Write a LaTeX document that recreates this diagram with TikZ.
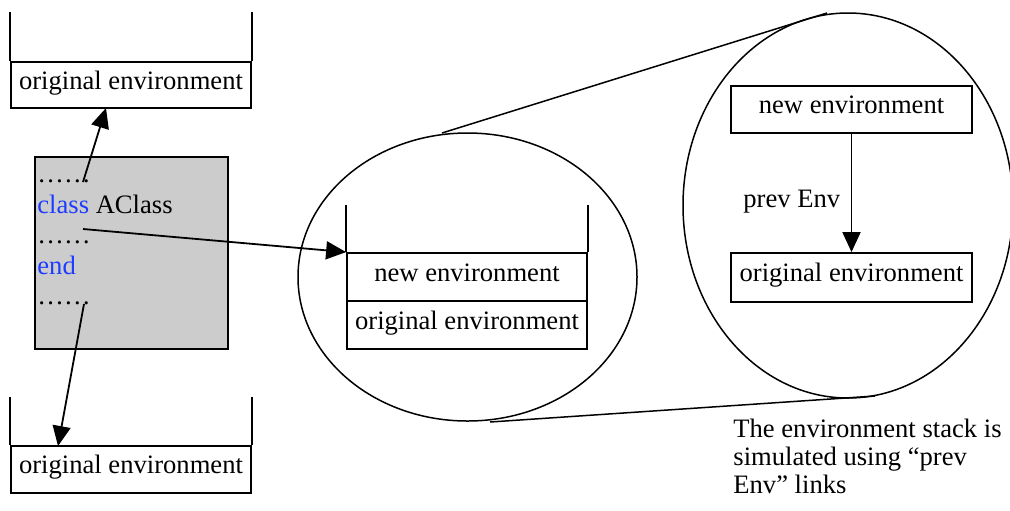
\documentclass[tikz,border=0pt]{standalone}
\usepackage{fontspec}
\setmainfont{Liberation Serif}
\usetikzlibrary{arrows.meta}
\definecolor{kwblue}{RGB}{30,60,255}
\definecolor{codegray}{RGB}{204,204,204}
\begin{document}
\begin{tikzpicture}[x=0.5pt,y=-0.5pt,
  font=\fontsize{13.3}{14}\selectfont,
  envbox/.style={draw, line width=0.9pt, fill=white, minimum width=120pt,
    inner sep=0pt, text height=7.5pt, text depth=3.5pt},
  wall/.style={line width=0.9pt},
  arr/.style={line width=0.9pt, -{Triangle[length=10pt,width=9pt]}},
  ring/.style={line width=0.75pt},
  codeline/.style={anchor=base west, inner sep=0pt}]
\useasboundingbox (0,0) rectangle (1010,510);

% --- zoom outline: two lens-like ellipses joined by tangent lines
\draw[ring] (467.5,277) ellipse [x radius=84.75pt, y radius=72pt];
\draw[ring] (848,205.5) ellipse [x radius=82.5pt, y radius=96.25pt];
\coordinate (lt1) at (442,133);
\coordinate (lt2) at (827,13);
\coordinate (lb1) at (490,422);
\coordinate (lb2) at (875,396);
\draw[ring] (lt1) -- (lt2);
\draw[ring] (lb1) -- (lb2);

% --- upper stack
\node[envbox, minimum height=23pt] (origA) at (131,85) {original environment};
\draw[wall] (origA.north west) -- ++(0,-49);
\draw[wall] (origA.north east) -- ++(0,-49);

% --- lower stack
\node[envbox, minimum height=23.5pt] (origB) at (131,469.5) {original environment};
\draw[wall] (origB.north west) -- ++(0,-48);
\draw[wall] (origB.north east) -- ++(0,-48);

% --- source code block
\node[draw, line width=0.9pt, fill=codegray, minimum width=96.5pt,
      minimum height=96pt, inner sep=0pt] (code) at (131.5,253) {};
\node[codeline] (dots1) at (37,182) {……};
\node[codeline] (cls) at (37,213) {\textcolor{kwblue}{class} AClass};
\node[codeline] (dots2) at (37,243) {……};
\node[codeline] (endkw) at (37,274) {\textcolor{kwblue}{end}};
\node[codeline] (dots3) at (37,304) {……};

% --- stack inside the middle ellipse
\node[envbox, minimum height=24pt] (newM) at (467,277) {new environment};
\node[envbox, minimum height=24pt] (origM) at (467,325) {original environment};
\draw[wall] (newM.north west) -- ++(0,-47);
\draw[wall] (newM.north east) -- ++(0,-47);

% --- linked environments inside the right ellipse
\node[envbox, minimum width=120.5pt, minimum height=23.5pt] (newR) at (851.5,109.5) {new environment};
\node[envbox, minimum width=120.5pt, minimum height=24.5pt] (origR) at (851.5,277.5) {original environment};
\node[codeline] (prevlbl) at (743,207) {prev Env};

% --- arrows
\coordinate (s1) at (83,182);
\coordinate (s2) at (83,229);
\coordinate (s3) at (84,304);
\coordinate (tA) at (106,108);
\coordinate (tB) at (58,446);
\draw[arr] (s1) -- (tA);
\draw[arr] (s2) -- (newM.north west);
\draw[arr] (s3) -- (tB);
\draw[arr] (newR.south) -- (origR.north);

% --- caption (base anchor sits on the last line)
\node[anchor=base west, inner sep=0pt, align=left,
      font=\fontsize{13.3}{14}\selectfont] (caption) at (733,493)
  {The environment stack is\\simulated using “prev\\Env” links};
\end{tikzpicture}
\end{document}
